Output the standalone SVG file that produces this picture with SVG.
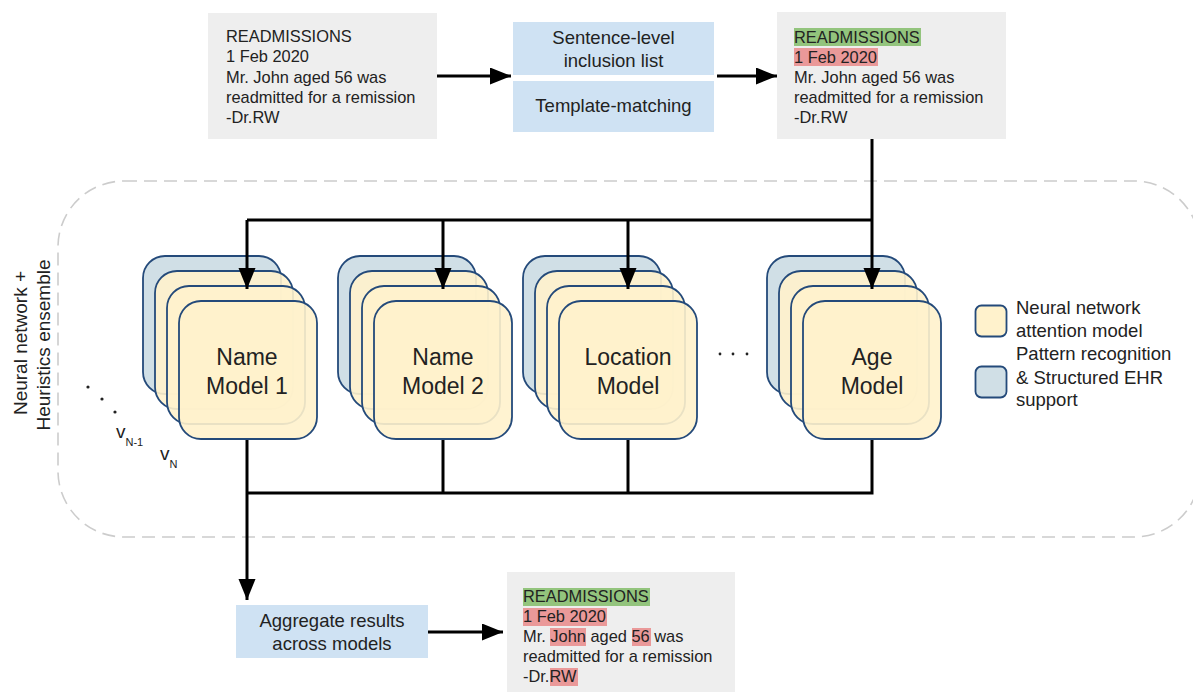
<svg xmlns="http://www.w3.org/2000/svg" width="1193" height="692" viewBox="0 0 1193 692">
  <style>
    text { font-family: "Liberation Sans", Arial, sans-serif; fill: #222222; }
    .doc { fill: #eeeeee; }
    .step { fill: #cfe2f3; }
    .t16 { font-size: 16.4px; }
    .t18 { font-size: 18.5px; }
    .t19 { font-size: 19px; }
    .t23 { font-size: 23px; }
    .mid { text-anchor: middle; }
    .hl-g { fill: #93c47d; }
    .hl-r { fill: #ea9999; }
    .card-b { fill: #d0dfe6; stroke: #244a7a; stroke-width: 1.8; }
    .card-y { fill: #fff2cc; fill-opacity: 0.9; stroke: #244a7a; stroke-width: 1.8; }
    .wire { fill: none; stroke: #000000; stroke-width: 3; }
    .frame { fill: none; stroke: #cccccc; stroke-width: 1.6; stroke-dasharray: 13 7; }
  </style>
  <defs>
    <marker id="arrow" markerUnits="userSpaceOnUse" markerWidth="22" markerHeight="18" refX="21" refY="8.5" orient="auto">
      <path d="M0,0 L21,8.5 L0,17 Z" fill="#000000"/>
    </marker>
    <!-- one stack of four model cards: blue heuristic card at the back, three attention cards in front -->
    <g id="stack">
      <rect class="card-b" x="0" y="0" width="138" height="138" rx="22"/>
      <rect class="card-y" x="12" y="15" width="138" height="138" rx="22"/>
      <rect class="card-y" x="24" y="30" width="138" height="138" rx="22"/>
      <rect class="card-y" x="36" y="45" width="138" height="138" rx="22"/>
    </g>
  </defs>

  <rect width="1193" height="692" fill="#ffffff"/>

  <!-- ensemble frame -->
  <rect class="frame" x="58" y="181" width="1142" height="356" rx="66"/>
  <g id="ensemble-label">
    <text class="t19 mid" transform="translate(27,343) rotate(-90)">Neural network +</text>
    <text class="t19 mid" transform="translate(50,345) rotate(-90)">Heuristics ensemble</text>
  </g>

  <!-- input document -->
  <g id="doc-input">
    <rect class="doc" x="208" y="13" width="229" height="126"/>
    <text class="t16" x="226" y="42">READMISSIONS</text>
    <text class="t16" x="226" y="62">1 Feb 2020</text>
    <text class="t16" x="226" y="82.5">Mr. John aged 56 was</text>
    <text class="t16" x="226" y="102.5">readmitted for a remission</text>
    <text class="t16" x="226" y="122.5">-Dr.RW</text>
  </g>

  <!-- rule-based preprocessing -->
  <g id="inclusion-list">
    <rect class="step" x="513" y="22" width="201" height="53"/>
    <text class="t18 mid" x="613.5" y="44">Sentence-level</text>
    <text class="t18 mid" x="613.5" y="67">inclusion list</text>
  </g>
  <g id="template-matching">
    <rect class="step" x="513" y="81" width="201" height="51"/>
    <text class="t18 mid" x="613.5" y="112">Template-matching</text>
  </g>

  <!-- document after preprocessing -->
  <g id="doc-pre">
    <rect class="doc" x="777" y="12" width="229" height="127"/>
    <rect class="hl-g" x="794" y="28" width="127" height="18"/>
    <rect class="hl-r" x="794" y="48" width="84" height="18"/>
    <text class="t16" x="794" y="42.5">READMISSIONS</text>
    <text class="t16" x="794" y="62.5">1 Feb 2020</text>
    <text class="t16" x="794" y="82.5">Mr. John aged 56 was</text>
    <text class="t16" x="794" y="102.5">readmitted for a remission</text>
    <text class="t16" x="794" y="122.5">-Dr.RW</text>
  </g>

  <!-- model stacks -->
  <g id="name-model-1">
    <use href="#stack" x="143" y="256"/>
    <text class="t23 mid" x="247" y="365">Name</text>
    <text class="t23 mid" x="247" y="394">Model 1</text>
  </g>
  <g id="name-model-2">
    <use href="#stack" x="338" y="256"/>
    <text class="t23 mid" x="443" y="365">Name</text>
    <text class="t23 mid" x="443" y="394">Model 2</text>
  </g>
  <g id="location-model">
    <use href="#stack" x="523" y="256"/>
    <text class="t23 mid" x="628" y="365">Location</text>
    <text class="t23 mid" x="628" y="394">Model</text>
  </g>
  <g id="age-model">
    <use href="#stack" x="767" y="256"/>
    <text class="t23 mid" x="872" y="365">Age</text>
    <text class="t23 mid" x="872" y="394">Model</text>
  </g>

  <!-- ellipsis between stacks -->
  <g id="more-models" fill="#222222">
    <circle cx="720" cy="354" r="1.4"/>
    <circle cx="733" cy="354" r="1.4"/>
    <circle cx="747" cy="354" r="1.4"/>
  </g>

  <!-- further versions -->
  <g id="versions">
    <circle cx="88" cy="387" r="1.6" fill="#222222"/>
    <circle cx="102" cy="399" r="1.6" fill="#222222"/>
    <circle cx="115" cy="412" r="1.6" fill="#222222"/>
    <text x="116" y="438" font-size="19">v<tspan font-size="11" dy="8">N-1</tspan></text>
    <text x="160" y="460" font-size="19">v<tspan font-size="11" dy="8">N</tspan></text>
  </g>

  <!-- legend -->
  <g id="legend">
    <rect x="975.5" y="305.5" width="31" height="31" rx="6" fill="#fff2cc" stroke="#244a7a" stroke-width="1.8"/>
    <rect x="975.5" y="366.5" width="31" height="31" rx="6" fill="#d0dfe6" stroke="#244a7a" stroke-width="1.8"/>
    <text class="t18" x="1016" y="314">Neural network</text>
    <text class="t18" x="1016" y="337">attention model</text>
    <text class="t18" x="1016" y="360">Pattern recognition</text>
    <text class="t18" x="1016" y="384">&amp; Structured EHR</text>
    <text class="t18" x="1016" y="406">support</text>
  </g>

  <!-- aggregation -->
  <g id="aggregate">
    <rect class="step" x="236" y="605" width="192" height="53"/>
    <text class="t18 mid" x="332" y="627">Aggregate results</text>
    <text class="t18 mid" x="332" y="650">across models</text>
  </g>

  <!-- final de-identified document -->
  <g id="doc-out">
    <rect class="doc" x="507" y="572" width="228" height="120"/>
    <rect class="hl-g" x="523" y="588" width="127" height="18"/>
    <rect class="hl-r" x="523" y="608" width="84" height="18"/>
    <rect class="hl-r" x="550" y="628" width="36" height="18"/>
    <rect class="hl-r" x="632" y="628" width="19" height="18"/>
    <rect class="hl-r" x="550" y="668" width="28" height="18"/>
    <text class="t16" x="523" y="602">READMISSIONS</text>
    <text class="t16" x="523" y="622">1 Feb 2020</text>
    <text class="t16" x="523" y="642">Mr. John aged 56 was</text>
    <text class="t16" x="523" y="662">readmitted for a remission</text>
    <text class="t16" x="523" y="682">-Dr.RW</text>
  </g>

  <!-- connectors -->
  <g id="connectors">
    <path class="wire" d="M437,76 H511" marker-end="url(#arrow)"/>
    <path class="wire" d="M717,76 H777" marker-end="url(#arrow)"/>
    <path class="wire" d="M872,139 V289" marker-end="url(#arrow)"/>
    <path class="wire" d="M872,220 H247"/>
    <path class="wire" d="M247,220 V289" marker-end="url(#arrow)"/>
    <path class="wire" d="M443,220 V289" marker-end="url(#arrow)"/>
    <path class="wire" d="M628,220 V289" marker-end="url(#arrow)"/>
    <path class="wire" d="M443,440 V493"/>
    <path class="wire" d="M628,440 V493"/>
    <path class="wire" d="M872,440 V493 H247"/>
    <path class="wire" d="M247,440 V600" marker-end="url(#arrow)"/>
    <path class="wire" d="M428,632 H503" marker-end="url(#arrow)"/>
  </g>
</svg>
